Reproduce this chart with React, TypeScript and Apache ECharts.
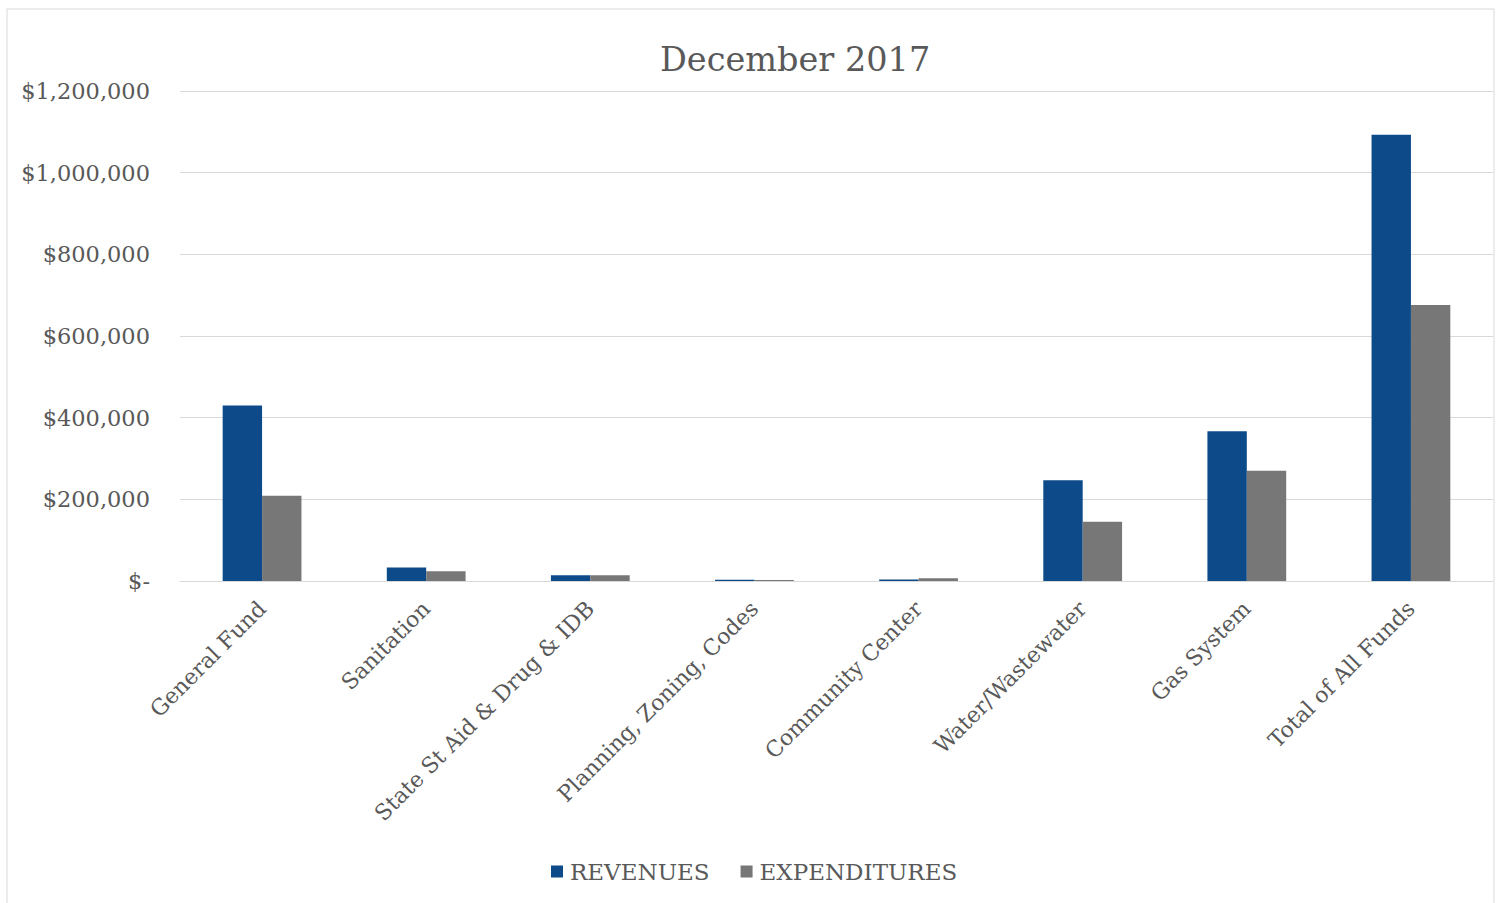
import React, { useEffect, useRef } from "react";
import * as echarts from "echarts";

const categories = [
  "General Fund",
  "Sanitation",
  "State St Aid & Drug & IDB",
  "Planning, Zoning, Codes",
  "Community Center",
  "Water/Wastewater",
  "Gas System",
  "Total of All Funds",
];
const revenues = [430000, 33000, 14000, 3000, 3500, 247000, 367000, 1093000];
const expenditures = [209000, 24000, 14000, 2500, 7000, 145000, 270000, 676000];
const yTicks = [0, 200000, 400000, 600000, 800000, 1000000, 1200000];

const FONT = "'DejaVu Serif', 'Liberation Serif', serif";
const TXT = "#595959";

export default function App() {
  const ref = useRef<HTMLDivElement>(null);
  useEffect(() => {
    if (!ref.current) return;
    const chart = echarts.init(ref.current, undefined, { renderer: "svg" });
    chart.setOption({
      animation: false,
      backgroundColor: "#ffffff",
      textStyle: { fontFamily: FONT },
      graphic: [
        {
          type: "rect",
          shape: { x: 7, y: 9, width: 1487, height: 905 },
          style: { fill: "none", stroke: "#d9d9d9", lineWidth: 1 },
          silent: true,
        },
      ],
      title: {
        text: "December 2017",
        left: 655,
        top: 37,
        textStyle: { fontFamily: FONT, fontSize: 33.5, fontWeight: "normal", color: TXT },
      },
      legend: {
        data: ["REVENUES", "EXPENDITURES"],
        left: 551,
        top: 860,
        padding: 0,
        icon: "rect",
        itemWidth: 12,
        itemHeight: 12,
        itemGap: 31,
        textStyle: { fontFamily: FONT, fontSize: 23, color: TXT, padding: [0, 0, 0, 2] },
      },
      grid: { left: 180, right: 8, top: 91, bottom: 322, containLabel: false },
      xAxis: {
        type: "category",
        data: categories,
        axisLine: { lineStyle: { color: "#d9d9d9" } },
        axisTick: { show: false },
        axisLabel: {
          rotate: 45,
          interval: 0,
          margin: 24,
          fontFamily: FONT,
          fontSize: 22,
          color: TXT,
        },
      },
      yAxis: {
        type: "value",
        min: yTicks[0],
        max: yTicks[yTicks.length - 1],
        interval: yTicks[1] - yTicks[0],
        axisLine: { show: false },
        axisTick: { show: false },
        splitLine: { lineStyle: { color: "#d9d9d9" } },
        axisLabel: {
          margin: 30,
          fontFamily: FONT,
          fontSize: 22.5,
          color: TXT,
          formatter: (v: number) => (v === 0 ? "$-" : "$" + v.toLocaleString("en-US")),
        },
      },
      series: [
        {
          name: "REVENUES",
          type: "bar",
          data: revenues,
          barGap: "0%",
          barCategoryGap: "52%",
          itemStyle: { color: "#0c4a89" },
        },
        {
          name: "EXPENDITURES",
          type: "bar",
          data: expenditures,
          itemStyle: { color: "#777777" },
        },
      ],
    });
    return () => chart.dispose();
  }, []);
  return (
    <div
      ref={ref}
      style={{ position: "absolute", left: 0, top: 0, width: 1501, height: 903 }}
    />
  );
}
